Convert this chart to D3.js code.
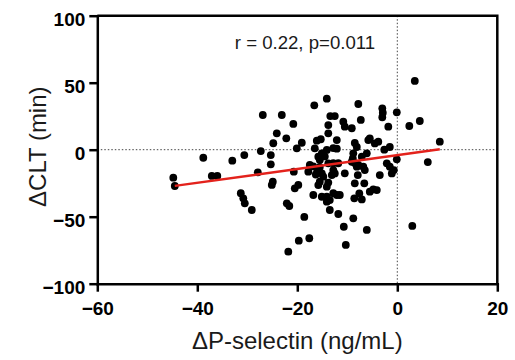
<!DOCTYPE html>
<html>
<head>
<meta charset="utf-8">
<script src="https://cdn.jsdelivr.net/npm/d3@7"></script>
<style>
	body { margin: 0; background: #fff; }
	svg { display: block; font-family: 'Liberation Sans', Arial, sans-serif; }
	.axis text { font-size: 19px; font-weight: bold; fill: #000; }
	.axis path, .axis line { stroke: #000; stroke-width: 2.5px; }
	.axis-label { font-size: 24px; fill: #1a1a1a; }
</style>
</head>
<body>
<div id="chart"></div>
<script>
// delta P-selectin (ng/mL), one per subject
const pSelectin = [
	-44.8, -44.5, -38.8, -37.1, -36.0, -33.0, -30.6, -31.3, -30.8, -30.5,
	-29.1, -27.9, -27.3, -26.9, -25.3, -25.3, -24.9, -25.1, -24.8, -24.1,
	-23.1, -22.2, -20.8, -22.1, -21.6, -21.8, -20.1, -20.7, -20.5, -19.8,
	-19.1, -19.7, -18.6, -17.6,
	-16.6, -14.1, -16.1, -15.3, -16.5, -14.1, -15.1, -15.8, -14.5, -15.5,
	-17.8, -17.5, -16.8, -16.0, -15.5, -15.1, -16.3, -15.5, -15.8, -14.8,
	-16.8, -15.1, -14.1, -13.5, -14.1, -14.1, -13.8, -13.1, -12.8, -13.5,
	-13.4, -12.5, -13.8, -13.8, -12.1, -12.8, -12.1, -12.8, -12.5, -12.8,
	-12.1, -11.5, -11.8, -13.8,
	-10.8, -10.5, -9.1, -7.8, -7.3, -8.5, -8.1, -8.8, -8.9, -7.1,
	-6.1, -11.8, -8.5, -9.1, -8.1, -7.8, -6.8, -6.5, -10.5, -7.9,
	-8.5, -6.6, -7.6, -8.6, -7.1, -8.8, -10.7, -10.3, -6.1,
	-5.8, -5.5, -4.5, -3.8, -3.0, -2.9, -3.0, -1.8, -0.1, -2.6,
	-1.5, -0.1, -2.1, -1.5, -1.1, -0.7, -3.5, -5.5, -4.8, -4.1,
	3.5, 4.5, 2.4, 8.5, 6.1, 3.0
];
// delta CLT (min), same order
const clt = [
	-20.9, -27.1, -6.0, -19.6, -19.6, -8.2, -4.0, -32.5, -36.3, -40.0,
	-45.0, -16.9, -1.0, 25.9, -4.0, -10.9, -23.9, -26.3, 4.8, 12.2,
	25.9, 8.5, 19.2, -40.0, -42.0, -76.1, 1.0, -16.4, -28.8, -26.3,
	5.2, -67.9, -50.2, -66.1,
	33.1, 38.1, 6.7, 7.8, 1.0, -0.2, -2.7, -5.2, -5.0, -7.7,
	-16.4, -11.4, -12.5, -15.0, -13.0, -17.7, -18.5, -23.9, -26.4, -20.1,
	-33.8, -35.1, -35.1, -37.6, -38.8, -27.6, -10.2, -18.9, -10.1, -45.0,
	25.1, 25.1, 18.4, 12.2, 7.2, 1.2, 0.8, -15.2, -17.7, -32.5,
	-33.8, -33.8, -48.0, -24.5,
	20.9, 17.2, 16.0, 34.1, 22.2, 5.0, 2.0, -2.7, -6.5, -5.2,
	-2.7, -10.1, -10.0, -9.0, -12.7, -11.4, -12.7, -15.2, -17.6, -18.9,
	-25.1, -25.1, -32.6, -36.3, -37.1, -51.2, -57.5, -71.1, -59.9,
	7.2, 8.5, 4.7, 6.0, 30.9, 27.6, 24.2, 17.2, 27.9, 0.0,
	2.0, -7.2, -10.2, -12.7, -17.7, -15.2, -18.9, -31.3, -29.6, -30.1,
	51.3, 21.4, 17.7, 6.0, -9.2, -56.9
];
// fitted regression line end points
const fitX = [-44.5, 8.5];
const fitY = [-27.0, 0.3];

const xTicks = [-60, -40, -20, 0, 20];
const yTicks = [-100, -50, 0, 50, 100];
const statsText = 'r = 0.22, p=0.011';

const margin = { top: 15.7, right: 17.7, bottom: 76.3, left: 97.3 };
const width = 400;
const height = 268;

const points = pSelectin.map((d, i) => ({ x: d, y: clt[i] }));

const svg = d3.select('#chart').append('svg')
	.attr('width', 515)
	.attr('height', 360);
const chart = svg.append('g')
	.attr('transform', `translate(${margin.left}, ${margin.top})`);

const x = d3.scaleLinear()
	.domain([-60, 20])
	.range([0, width]);
const y = d3.scaleLinear()
	.domain([-100, 100])
	.range([height, 0]);

// dotted zero lines
chart.append('line')
	.attr('x1', 0).attr('x2', width)
	.attr('y1', y(0)).attr('y2', y(0))
	.style('stroke', '#444')
	.style('stroke-width', 1)
	.style('stroke-dasharray', '1.5,2');
chart.append('line')
	.attr('x1', x(0)).attr('x2', x(0))
	.attr('y1', 0).attr('y2', height)
	.style('stroke', '#444')
	.style('stroke-width', 1)
	.style('stroke-dasharray', '1.5,2');

// frame top and right
chart.append('path')
	.attr('d', `M0,0H${width}V${height}`)
	.style('fill', 'none')
	.style('stroke', '#000')
	.style('stroke-width', 2.5);

chart.selectAll('.dot')
	.data(points)
	.enter().append('circle')
		.attr('class', 'dot')
		.attr('cx', d => x(d.x))
		.attr('cy', d => y(d.y))
		.attr('r', 3.9)
		.style('fill', '#000');

// regression line
chart.append('line')
	.attr('x1', x(fitX[0])).attr('y1', y(fitY[0]))
	.attr('x2', x(fitX[1])).attr('y2', y(fitY[1]))
	.style('stroke', '#e3221c')
	.style('stroke-width', 2.5);

// axes
const xAxis = d3.axisBottom(x)
	.tickValues(xTicks)
	.tickSize(8)
	.tickSizeOuter(0)
	.tickPadding(10);
const yAxis = d3.axisLeft(y)
	.tickValues(yTicks)
	.tickSize(8)
	.tickSizeOuter(0)
	.tickPadding(4);
chart.append('g')
	.attr('class', 'x axis')
	.attr('transform', `translate(0, ${height})`)
	.call(xAxis);
chart.append('g')
	.attr('class', 'y axis')
	.call(yAxis)
	.selectAll('text')
		.attr('dy', '0.53em');
chart.selectAll('.axis path').style('stroke-linecap', 'square');

// labels
chart.append('text')
	.attr('class', 'axis-label')
	.attr('x', width / 2)
	.attr('y', height + 65)
	.style('text-anchor', 'middle')
	.text('ΔP-selectin (ng/mL)');
chart.append('text')
	.attr('class', 'axis-label')
	.attr('transform', 'rotate(-90)')
	.attr('x', -131)
	.attr('y', -51)
	.style('text-anchor', 'middle')
	.text('ΔCLT (min)');
chart.append('text')
	.attr('x', x(-32.5))
	.attr('y', 33)
	.style('font-size', '18.6px')
	.style('fill', '#1a1a1a')
	.text(statsText);
</script>
</body>
</html>
